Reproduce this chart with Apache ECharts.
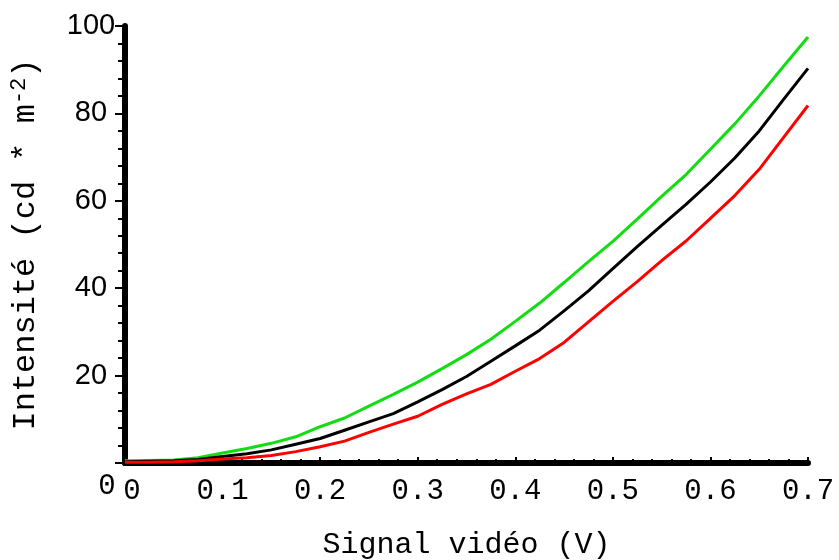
<!DOCTYPE html>
<html><head><meta charset="utf-8">
<script src="https://cdn.jsdelivr.net/npm/echarts@6/dist/echarts.min.js"></script>
<style>html,body{margin:0;padding:0;background:#fff}#c{width:839px;height:560px}</style>
</head><body><div id="c"></div>
<script>
const xValues = [0,0.025,0.05,0.075,0.1,0.125,0.15,0.175,0.2,0.225,0.25,0.275,0.3,0.325,0.35,0.375,0.4,0.425,0.45,0.475,0.5,0.525,0.55,0.575,0.6,0.625,0.65,0.675,0.7];
const greenValues = [0.5,0.6,0.7,1.2,2.3,3.3,4.5,6.0,8.3,10.3,13.0,15.7,18.5,21.6,24.8,28.3,32.4,36.6,41.3,46.1,50.7,55.8,61.0,66.0,71.8,77.6,84.0,90.8,97.5];
const blackValues = [0.3,0.4,0.5,0.8,1.5,2.1,3.0,4.3,5.6,7.5,9.4,11.3,14.0,16.8,19.8,23.3,26.8,30.4,34.8,39.4,44.5,49.5,54.4,59.2,64.3,69.8,76.0,83.2,90.3];
const redValues = [0.2,0.2,0.3,0.5,0.9,1.2,1.7,2.6,3.7,5.0,7.0,8.9,10.7,13.4,15.8,18.0,21.0,23.9,27.6,32.3,37.0,41.5,46.3,50.8,56.0,61.2,67.2,74.5,81.8];
const xTicks = [0,0.1,0.2,0.3,0.4,0.5,0.6,0.7];
const yTicks = [0,20,40,60,80,100];
const xName = 'Signal vidéo (V)';
const yNameParts = ['Intensité (cd * m', '-2', ')'];

const chart = echarts.init(document.getElementById('c'), null, {renderer:'canvas'});
function mk(vals){ return xValues.map((x,i)=>[x, vals[i]]); }
chart.setOption({
  animation:false,
  backgroundColor:'#fff',
  grid:{left:125, right:31, top:26, bottom:97, containLabel:false, outerBoundsMode:'none'},
  xAxis:{
    type:'value', min:xTicks[0], max:xTicks[xTicks.length-1], interval:0.1,
    name:xName, nameLocation:'middle', nameGap:67,
    nameTextStyle:{fontFamily:'Liberation Mono', fontSize:30, color:'#000'},
    axisLine:{show:true, onZero:false, lineStyle:{color:'#000', width:6}},
    axisTick:{show:true, inside:true, length:6, lineStyle:{color:'#000', width:2}},
    minorTick:{show:true, splitNumber:5, length:4, lineStyle:{color:'#000', width:2}},
    splitLine:{show:false},
    axisLabel:{
      margin:14, fontFamily:'Liberation Mono', fontSize:29, color:'#000',
      formatter:function(v){ return v===0 ? '{z|0}' : v.toFixed(1); },
      rich:{z:{fontFamily:'Liberation Mono', fontSize:29, color:'#000', padding:[0,0,0,14]}}
    }
  },
  yAxis:{
    type:'value', min:yTicks[0], max:yTicks[yTicks.length-1], interval:20,
    name:'{a|'+yNameParts[0]+'}{s|'+yNameParts[1]+'}{a|'+yNameParts[2]+'}',
    nameLocation:'middle', nameGap:83, nameRotate:90,
    nameTextStyle:{
      rich:{
        a:{fontFamily:'Liberation Mono', fontSize:32, color:'#000', lineHeight:34, verticalAlign:'bottom'},
        s:{fontFamily:'Liberation Mono', fontSize:22, color:'#000', lineHeight:34, verticalAlign:'top'}
      }
    },
    axisLine:{show:true, onZero:false, lineStyle:{color:'#000', width:6}},
    axisTick:{show:true, inside:false, length:10, lineStyle:{color:'#000', width:2}},
    minorTick:{show:true, splitNumber:5, length:7, lineStyle:{color:'#000', width:2}},
    splitLine:{show:false},
    axisLabel:{
      margin:34, align:'center', fontFamily:'Liberation Sans', fontSize:29, color:'#000',
      formatter:function(v){ return v===0 ? '{z|0}' : String(v); },
      rich:{z:{fontFamily:'Liberation Mono', fontSize:29, color:'#000', padding:[46,0,0,32]}}
    }
  },
  series:[
    {name:'vert', type:'line', data:mk(greenValues), showSymbol:false, lineStyle:{color:'#11dd11', width:3}, itemStyle:{color:'#11dd11'}},
    {name:'noir', type:'line', data:mk(blackValues), showSymbol:false, lineStyle:{color:'#000', width:3}, itemStyle:{color:'#000'}},
    {name:'rouge', type:'line', data:mk(redValues), showSymbol:false, lineStyle:{color:'#ff0000', width:3}, itemStyle:{color:'#ff0000'}}
  ]
});
</script></body></html>
